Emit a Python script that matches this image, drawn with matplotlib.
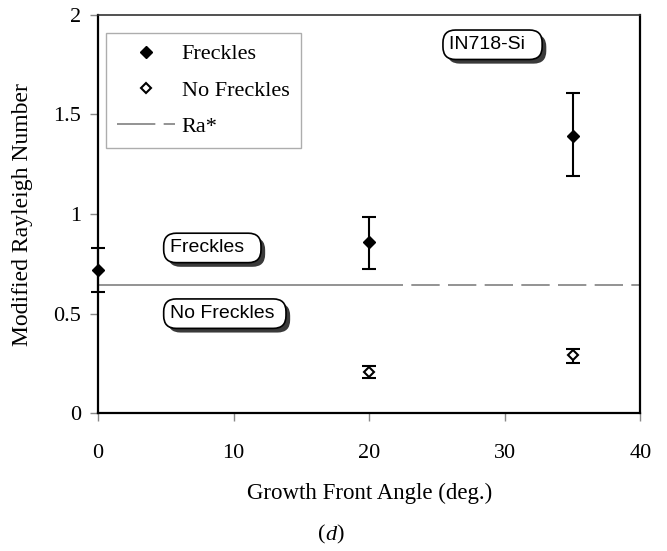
import matplotlib.pyplot as plt
from matplotlib.lines import Line2D
import matplotlib.patheffects as pe

# data
angle_fr = [0, 20, 35]
ra_fr = [0.72, 0.86, 1.39]
fr_lo = [0.61, 0.725, 1.19]
fr_hi = [0.83, 0.985, 1.61]

angle_nf = [20, 35]
ra_nf = [0.205, 0.29]
nf_lo = [0.175, 0.25]
nf_hi = [0.235, 0.325]

ra_star = 0.645

plt.rcParams['font.family'] = ['Liberation Serif', 'DejaVu Serif']

fig = plt.figure(figsize=(6.67, 5.51), dpi=100)
axis = fig.add_axes([0.147, 0.25, 0.813, 0.723])

err_fr = [[v - l for v, l in zip(ra_fr, fr_lo)], [h - v for v, h in zip(ra_fr, fr_hi)]]
err_nf = [[v - l for v, l in zip(ra_nf, nf_lo)], [h - v for v, h in zip(ra_nf, nf_hi)]]

axis.errorbar(angle_fr, ra_fr, yerr=err_fr, fmt='D', color='black', ms=6.5,
              capsize=4.7, elinewidth=1.5, capthick=1.5, clip_on=False, zorder=5)
axis.errorbar(angle_nf, ra_nf, yerr=err_nf, fmt='D', color='black', mfc='white', mew=1.5, ms=5.5,
              capsize=4.7, elinewidth=1.5, capthick=1.5, zorder=5)
line, = axis.plot([0, 40], [ra_star, ra_star], color='#808080', lw=1.2)
line.set_dashes([183, 5] + [17, 5] * 8)

axis.set_xlim(0, 40)
axis.set_ylim(0, 2)
axis.set_xticks([0, 10, 20, 30, 40])
axis.set_yticks([0, 0.5, 1, 1.5, 2])
axis.set_yticklabels(['0', '0.5', '1', '1.5', '2'])
axis.tick_params(axis='both', direction='out', length=6, width=1, color='#888888', labelsize=16)
axis.tick_params(axis='x', pad=16)
axis.tick_params(axis='y', pad=6)
for s in axis.spines.values():
    s.set_linewidth(1.6)
axis.spines['top'].set_linewidth(1.2)
axis.spines['top'].set_color('#333333')

axis.set_xlabel('Growth Front Angle (deg.)', fontsize=16.5)
axis.xaxis.set_label_coords(0.5, -0.175)
axis.set_ylabel('Modified Rayleigh Number', fontsize=17)
axis.yaxis.set_label_coords(-0.12, 0.5)
fig.text(0.488, 0.029, '(', fontsize=16, ha='right', va='center')
fig.text(0.488, 0.029, 'd', fontsize=16, style='italic', ha='left', va='center')
fig.text(0.504, 0.029, ')', fontsize=16, ha='left', va='center')

handles = [
    Line2D([], [], ls='none', marker='D', color='black', ms=6.5),
    Line2D([], [], ls='none', marker='D', color='black', mfc='white', mew=1.5, ms=5.5),
    Line2D([], [], color='#808080', lw=1.2, dashes=(23, 5)),
]
leg = axis.legend(handles, ['Freckles', 'No Freckles', 'Ra*'], loc='upper left',
                  bbox_to_anchor=(0.015, 0.955), borderaxespad=0, fontsize=16, frameon=True,
                  fancybox=False, edgecolor='#999999', handlelength=2.6, handletextpad=0.3,
                  borderpad=0.5, labelspacing=0.7, numpoints=1)
leg.get_frame().set_linewidth(1)


def label_box(x, y, txt):
    t = axis.text(x, y, txt, fontsize=14, family='Liberation Sans', va='center', ha='left',
                  bbox=dict(boxstyle='round,pad=0.32,rounding_size=0.65', fc='white', ec='black', lw=1.2),
                  zorder=7)
    t.get_bbox_patch().set_path_effects([
        pe.SimplePatchShadow(offset=(3, -3), shadow_rgbFace='#3a3a3a', alpha=1), pe.Normal()])


label_box(25.9, 1.85, 'IN718-Si  ')
label_box(5.3, 0.83, 'Freckles  ')
label_box(5.3, 0.50, 'No Freckles ')

plt.savefig('out.png', dpi=100)
